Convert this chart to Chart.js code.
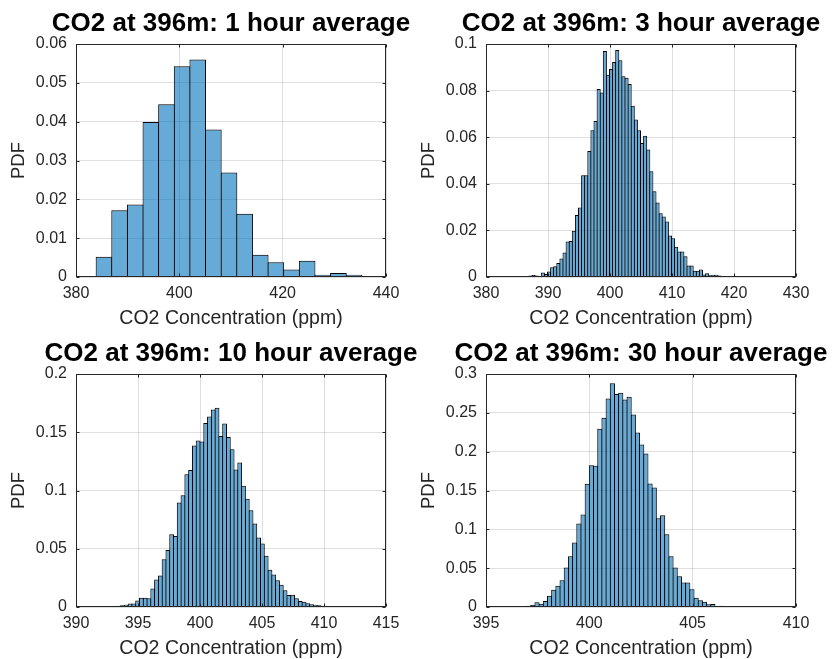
<!DOCTYPE html>
<html><head><meta charset="utf-8">
<script src="https://cdn.jsdelivr.net/npm/chart.js@4.4.0/dist/chart.umd.min.js"></script>
<style>
html,body{margin:0;padding:0;background:#fff;overflow:hidden;width:835px;height:659px;}
canvas{position:absolute;}
</style></head><body>
<canvas id="c0" width="462" height="330" style="left:0px;top:0px"></canvas>
<canvas id="c1" width="462" height="330" style="left:410px;top:0px"></canvas>
<canvas id="c2" width="462" height="330" style="left:0px;top:330px"></canvas>
<canvas id="c3" width="462" height="330" style="left:410px;top:330px"></canvas>
<script>
// ---- data ----
const titles = ['CO2 at 396m: 1 hour average','CO2 at 396m: 3 hour average','CO2 at 396m: 10 hour average','CO2 at 396m: 30 hour average'];
const xLabel = 'CO2 Concentration (ppm)';
const yLabel = 'PDF';
const xMin = [380, 380, 390, 395];
const xMax = [440, 430, 415, 410];
const xStep = [20, 10, 5, 5];
const yMax = [0.06, 0.1, 0.2, 0.3];
const yStep = [0.01, 0.02, 0.05, 0.05];
const binStart = [383.9, 386.92, 392.07, 396.354];
const binWidth = [3.025, 0.5, 0.305, 0.2026];

const pdf1h = [0.0052,0.0172,0.0187,0.0399,0.0445,0.0543,0.056,0.038,0.0269,0.0163,0.0057,0.0038,0.0019,0.0042,0.0006,0.001,0.0006];

const pdf3h = [0.0006,0.0009,0.0006,0.0003,0.0019,0.0013,0.0024,0.0042,0.0046,0.006,
  0.0079,0.0105,0.0152,0.0155,0.0199,0.0266,0.0298,0.0437,0.0437,0.0541,
  0.063,0.0669,0.0807,0.0792,0.097,0.0868,0.0893,0.0923,0.0974,0.093,
  0.0862,0.0855,0.0828,0.0735,0.0676,0.063,0.0575,0.0606,0.0547,0.0454,
  0.0368,0.032,0.0274,0.026,0.0238,0.0178,0.0166,0.013,0.0109,0.0109,
  0.0089,0.0049,0.0049,0.0027,0.0027,0.0032,0.0011,0.0016,0.0007,0.001,
  0.001,0.0006,0.0003,0.0004,0.0002,0.0002,0.0001,0.0002,0.0002,0.0001,
  0.0001,0.0002,0.0001,0.0001,0.0003,0.0001,0.0001,0.0001,0.0003];

const pdf10h = [0.0006,0.0006,0.0009,0.0009,0.001,0.0014,0.002,0.003,0.003,0.0055,
  0.008,0.008,0.0075,0.0158,0.0235,0.027,0.041,0.049,0.0625,0.061,
  0.0897,0.096,0.114,0.1175,0.1387,0.143,0.142,0.158,0.1636,0.1696,
  0.171,0.1467,0.1576,0.146,0.1355,0.118,0.124,0.104,0.093,0.083,
  0.0716,0.0596,0.0544,0.044,0.032,0.028,0.0229,0.019,0.0143,0.0103,
  0.0106,0.0076,0.0052,0.0046,0.0033,0.0024,0.002,0.0014,0.0011,0.0009,
  0.0009,0.0006,0.0009,0.0006,0.0006];

const pdf30h = [0.0009,0.0013,0.0013,0.0017,0.0026,0.006,0.0043,0.0077,0.0146,0.0223,
  0.0275,0.0344,0.0507,0.0653,0.0829,0.1074,0.119,0.1586,0.1826,0.1818,
  0.2295,0.2437,0.2686,0.288,0.2742,0.2759,0.2673,0.2707,0.248,0.2248,
  0.2093,0.1977,0.159,0.1539,0.1143,0.118,0.0937,0.0653,0.0507,0.0395,
  0.0314,0.0314,0.0228,0.012,0.0086,0.0069,0.0034,0.0039,0.0009,0.0017,
  0.0009,0.0004,0.0004,0.0004];

const series = [pdf1h, pdf3h, pdf10h, pdf30h];

// ---- styles ----
const FONT = "'Liberation Sans', Arial, Helvetica, sans-serif";
const AXC = '#262626';
const GRID = 'rgba(38,38,38,0.15)';
const PLOT_W = 310;

const boxPlugin = {
  id: 'matlabBox',
  afterDatasetsDraw(chart) {
    const {ctx, chartArea: a} = chart;
    const x = chart.scales.x, y = chart.scales.y;
    ctx.save();
    ctx.strokeStyle = AXC; ctx.lineWidth = 1;
    const L = Math.round(a.left) + 0.5, R = Math.round(a.right) - 0.5;
    const T = Math.round(a.top) + 0.5, B = Math.round(a.bottom) - 0.5;
    ctx.strokeRect(L, T, R - L, B - T);
    const tl = 3;
    ctx.beginPath();
    x.ticks.forEach(t => {
      const px = Math.round(x.getPixelForValue(t.value)) + 0.5;
      ctx.moveTo(px, B); ctx.lineTo(px, B - tl);
      ctx.moveTo(px, T); ctx.lineTo(px, T + tl);
    });
    y.ticks.forEach(t => {
      const py = Math.round(y.getPixelForValue(t.value)) + 0.5;
      ctx.moveTo(L, py); ctx.lineTo(L + tl, py);
      ctx.moveTo(R, py); ctx.lineTo(R - tl, py);
    });
    ctx.stroke();
    ctx.restore();
  }
};

const fmt = v => String(+Number(v).toFixed(4));

function makeChart(i) {
  const pts = series[i].map((v, k) => ({x: binStart[i] + (k + 0.5) * binWidth[i], y: v}));
  const s = binWidth[i] * PLOT_W / (xMax[i] - xMin[i]);
  new Chart(document.getElementById('c' + i), {
    type: 'bar',
    data: { datasets: [{
      data: pts, xAxisID: 'x', yAxisID: 'y',
      backgroundColor: 'rgba(0,114,189,0.6)',
      borderColor: '#000', borderWidth: 1, borderSkipped: 'start',
      barPercentage: (s + 1) / s, categoryPercentage: 1, inflateAmount: 0
    }]},
    options: {
      responsive: false, animation: false, devicePixelRatio: 1,
      layout: { padding: {left: 0, right: 0, top: 0, bottom: 0} },
      plugins: {
        legend: {display: false}, tooltip: {enabled: false},
        title: { display: true, text: titles[i], color: '#000',
          font: {family: FONT, size: 26, weight: 'bold'}, padding: {top: 8.6, bottom: 4.2} }
      },
      scales: {
        x: { type: 'linear', min: xMin[i], max: xMax[i], offset: false,
          grid: {offset: false, color: GRID, drawTicks: false, lineWidth: 1},
          border: {display: false},
          ticks: {stepSize: xStep[i], autoSkip: false, maxRotation: 0, padding: 7, color: AXC,
            font: {family: FONT, size: 16}, callback: v => fmt(v)},
          title: {display: true, text: xLabel, color: AXC, font: {family: FONT, size: 19.5}, padding: {top: 0, bottom: 0}},
          afterFit: sc => { sc.height = 53; }
        },
        y: { type: 'linear', position: 'left', min: 0, max: yMax[i],
          grid: {color: GRID, drawTicks: false, lineWidth: 1},
          border: {display: false},
          ticks: {stepSize: yStep[i], autoSkip: false, padding: 9, color: AXC,
            font: {family: FONT, size: 16}, callback: v => fmt(v)},
          title: {display: true, text: yLabel, color: AXC, font: {family: FONT, size: 18.5}, padding: {top: 8, bottom: 0}},
          afterFit: sc => { sc.width = 76; }
        },
        y2: { type: 'linear', position: 'right', display: true,
          grid: {display: false}, border: {display: false}, ticks: {display: false},
          afterFit: sc => { sc.width = 76; }
        }
      }
    },
    plugins: [boxPlugin]
  });
}
for (let i = 0; i < 4; i++) makeChart(i);
</script>
</body></html>
